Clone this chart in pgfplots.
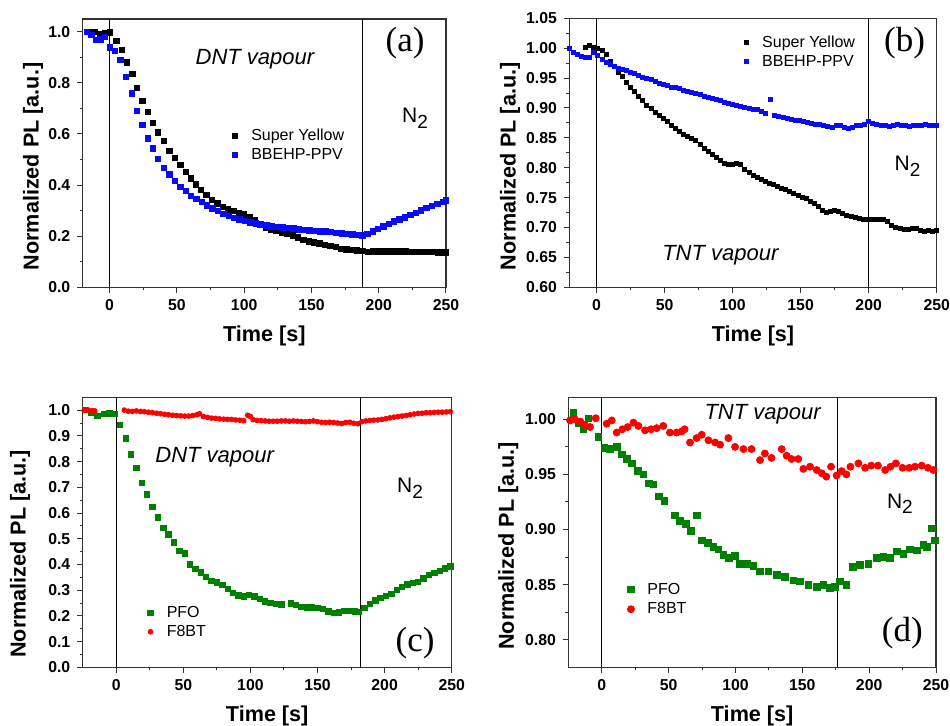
\documentclass[border=0pt]{standalone}
\usepackage{fontspec}
\setmainfont{Liberation Sans}
\newfontfamily\seriffont{Liberation Serif}
\usepackage{pgfplots}
\pgfplotsset{compat=1.18}

\definecolor{pblue}{RGB}{10,10,250}
\definecolor{pgreen}{RGB}{0,128,0}
\definecolor{pred}{RGB}{255,0,0}

\pgfplotsset{
  panel/.style={
    scale only axis,
    axis line style={line width=0.6pt, black!80},
    tick pos=left,
    tick align=outside,
    major tick length=2.7pt,
    minor tick length=1.5pt,
    every tick/.style={black!80, line width=0.5pt},
    ticklabel style={font=\bfseries\fontsize{7.9}{9}\selectfont},
    /pgf/number format/assume math mode=true,
    label style={font=\bfseries\fontsize{10.8}{12}\selectfont},
    xlabel={Time [s]},
    ylabel={Normalized PL [a.u.]},
    xlabel style={at={(axis description cs:0.5,-0.18)}, anchor=center},
    xtick={0,50,100,150,200,250},
    minor x tick num=1,
    minor y tick num=1,
    xmax=250,
    legend cell align=left,
    legend style={draw=none, fill=none, inner sep=0pt, outer sep=0pt,
      anchor=north west, row sep=0pt,
      font=\fontsize{8}{9}\selectfont,
      nodes={text height=6pt, text depth=1.5pt, inner sep=1pt}},
  },
  pts/.style={only marks,
    legend image code/.code={\path[draw=none, fill=none] (0cm,0cm) (0.45cm,0cm);
      \path[##1] plot coordinates {(0.2cm,0cm)};}},
  vline/.style={forget plot, black, line width=0.5pt},
}
\tikzset{
  ann/.style={font=\itshape\fontsize{11}{12}\selectfont},
  ntwo/.style={font=\fontsize{10.5}{12}\selectfont},
  plab/.style={font=\seriffont\fontsize{17.5}{20}\selectfont},
}

\begin{document}
\begin{tikzpicture}
\useasboundingbox (0,0) rectangle (475pt,363pt);

% (a)
\begin{axis}[panel, at={(41.35pt,219.35pt)}, anchor=south west,
  width=181.65pt, height=134.15pt,
  xmin=-20, ymin=0, ymax=1.05,
  ytick={0,0.2,0.4,0.6,0.8,1.0},
  yticklabel style={/pgf/number format/.cd, fixed, fixed zerofill, precision=1},
  ylabel style={at={(axis description cs:-0.137,0.45)}, anchor=center},
  legend style={at={(0.388,0.60)}}]
\addplot[pts, mark=square*, mark size=1.35pt, black] coordinates {
(-15,1.0) (-11,1.0) (-7,0.99) (-3,0.995) (0,0.997) (5,0.965) (9,0.928) (13,0.88)
(17,0.835) (20.5,0.78) (24.5,0.729) (28.5,0.687) (32,0.644) (36,0.606) (40.5,0.572)
(44.5,0.533) (48.5,0.507) (52.5,0.478) (56.5,0.452) (60.5,0.426) (64,0.403) (68,0.381)
(72,0.361) (76,0.342) (80,0.329) (84,0.315) (88,0.305) (92,0.298) (96,0.292) (100,0.285)
(104,0.275) (108,0.262) (112,0.245) (116,0.232) (120,0.226) (124,0.222) (128,0.214)
(132,0.208) (136,0.203) (140,0.195) (144,0.186) (148,0.180) (152,0.176) (156,0.171)
(160,0.165) (164,0.161) (168,0.157) (172,0.151) (176,0.148) (180,0.146) (184,0.145)
(188,0.143) (192,0.138) (196,0.141) (200,0.141) (204,0.140) (208,0.140) (212,0.140)
(216,0.140) (220,0.140) (224,0.139) (228,0.139) (232,0.138) (236,0.138) (240,0.138)
(244,0.137) (248,0.137) (250,0.137)
};
\addplot[pts, mark=square*, mark size=1.35pt, pblue] coordinates {
(-17,1.0) (-13.5,0.987) (-10,0.968) (-6.5,0.97) (-3.5,0.98) (0,0.939) (4,0.926)
(8,0.889) (12,0.824) (16.5,0.759) (20.5,0.691) (24.5,0.635) (28.5,0.583) (32,0.544)
(36,0.502) (40.5,0.468) (44.5,0.442) (48.5,0.417) (52.5,0.394) (56.5,0.377) (60.5,0.358)
(64.5,0.345) (68.5,0.333) (72.5,0.320) (76.5,0.308) (80.5,0.298) (84.5,0.288)
(88.5,0.280) (92.5,0.272) (96.5,0.265) (100.5,0.259) (104.5,0.254) (108.5,0.250)
(112.5,0.246) (116.5,0.242) (120.5,0.239) (124.5,0.236) (128.5,0.234) (132.5,0.232)
(136.5,0.230) (140.5,0.227) (144.5,0.224) (148.5,0.222) (152.5,0.220) (156.5,0.219)
(160.5,0.218) (164.5,0.216) (168.5,0.213) (172.5,0.211) (176.5,0.209) (180.5,0.207)
(184.5,0.205) (188,0.203) (191.5,0.210) (195.5,0.218) (199.5,0.228) (203.5,0.238)
(207.5,0.248) (211.5,0.258) (215.5,0.266) (219.5,0.274) (223.5,0.283) (227.5,0.292)
(231.5,0.301) (235.5,0.310) (239.5,0.318) (243.5,0.327) (247.5,0.335) (250,0.340)
};
\legend{Super Yellow, BBEHP-PPV}
\addplot[vline] coordinates {(0,0) (0,1.05)};
\addplot[vline] coordinates {(188,0) (188,1.05)};
\node[ann] at (axis cs:108,0.892) {DNT vapour};
\node[plab] at (axis cs:219.6,0.957) {(a)};
\node[ntwo] at (axis cs:227,0.661) {N\raisebox{-0.5ex}{\fontsize{9.5}{10}\selectfont 2}};
\end{axis}

% (b)
\begin{axis}[panel, at={(284.65pt,219.35pt)}, anchor=south west,
  width=183.7pt, height=134.5pt,
  xmin=-20, ymin=0.6, ymax=1.05,
  ytick={0.60,0.65,0.70,0.75,0.80,0.85,0.90,0.95,1.00,1.05},
  yticklabel style={/pgf/number format/.cd, fixed, fixed zerofill, precision=2},
  ylabel style={at={(axis description cs:-0.161,0.45)}, anchor=center},
  legend style={at={(0.45,0.945)}}]
\addplot[pts, mark=square*, mark size=1.0pt, black] coordinates {
(-8,1.001) (-5,1.004) (-2,1.002) (1,1.000) (4,0.997) (7,0.990) (10,0.978) (13,0.969)
(16,0.960) (19,0.952) (22,0.943) (25,0.935) (28,0.928) (31,0.920) (34,0.912) (37,0.905)
(40,0.899) (43,0.892) (46,0.887) (49,0.883) (52,0.877) (55,0.870) (58,0.865) (61,0.861)
(64,0.856) (67,0.852) (70,0.849) (73,0.846) (76,0.839) (79,0.833) (82,0.828) (85,0.822)
(88,0.817) (91,0.812) (94,0.808) (97,0.806) (100,0.805) (103,0.808) (106,0.806)
(109,0.797) (112,0.792) (115,0.787) (118,0.784) (121,0.780) (124,0.777) (127,0.774)
(130,0.772) (133,0.769) (136,0.766) (139,0.763) (142,0.760) (145,0.757) (148,0.754)
(151,0.751) (154,0.748) (157,0.744) (160,0.740) (163,0.735) (166,0.729) (169,0.726)
(172,0.727) (175,0.728) (178,0.727) (181,0.724) (184,0.721) (187,0.719) (190,0.717)
(193,0.716) (196,0.714) (199,0.713) (202,0.713) (205,0.713) (208,0.713) (211,0.713)
(214,0.710) (217,0.704) (220,0.700) (223,0.698) (226,0.697) (229,0.697) (232,0.699)
(235,0.698) (238,0.695) (241,0.694) (244,0.695) (247,0.694) (250,0.696)
};
\addplot[pts, mark=square*, mark size=1.0pt, pblue] coordinates {
(-20,1.000) (-17,0.993) (-14,0.989) (-11,0.987) (-8,0.984) (-5,0.985) (-2,0.993)
(1,0.988) (4,0.982) (7,0.977) (10,0.973) (13,0.970) (16,0.967) (19,0.964) (22,0.962)
(25,0.959) (28,0.957) (31,0.954) (34,0.951) (37,0.949) (40,0.947) (43,0.944) (46,0.941)
(49,0.939) (52,0.937) (55,0.935) (58,0.934) (61,0.932) (64,0.930) (67,0.927) (70,0.926)
(73,0.924) (76,0.922) (79,0.920) (82,0.918) (85,0.916) (88,0.914) (91,0.912) (94,0.910)
(97,0.908) (100,0.906) (103,0.904) (106,0.903) (109,0.901) (112,0.900) (115,0.898)
(118,0.897) (121,0.895) (124,0.891) (128,0.915) (131,0.888) (134,0.886) (137,0.885)
(140,0.883) (143,0.881) (146,0.880) (149,0.879) (152,0.877) (155,0.876) (158,0.875)
(161,0.873) (164,0.872) (167,0.871) (170,0.869) (173,0.868) (176,0.870) (179,0.870)
(182,0.867) (185,0.866) (188,0.868) (191,0.870) (194,0.871) (197,0.873) (200,0.877)
(203,0.874) (206,0.872) (209,0.871) (212,0.870) (215,0.869) (218,0.870) (221,0.872)
(224,0.870) (227,0.871) (230,0.869) (233,0.871) (236,0.870) (239,0.871) (242,0.872)
(245,0.870) (248,0.871) (250,0.870)
};
\legend{Super Yellow, BBEHP-PPV}
\addplot[vline] coordinates {(0,0.6) (0,1.05)};
\addplot[vline] coordinates {(200,0.6) (200,1.05)};
\node[ann] at (axis cs:91,0.654) {TNT vapour};
\node[plab] at (axis cs:226.4,1.008) {(b)};
\node[ntwo] at (axis cs:228.6,0.802) {N\raisebox{-0.5ex}{\fontsize{9.5}{10}\selectfont 2}};
\end{axis}

% (c)
\begin{axis}[panel, at={(41.35pt,29.35pt)}, anchor=south west,
  width=184.5pt, height=135pt,
  xmin=-25, ymin=0, ymax=1.05,
  ytick={0,0.1,0.2,0.3,0.4,0.5,0.6,0.7,0.8,0.9,1.0},
  yticklabel style={/pgf/number format/.cd, fixed, fixed zerofill, precision=1},
  ylabel style={at={(axis description cs:-0.17,0.42)}, anchor=center},
  legend style={at={(0.153,0.237)}}]
\addplot[pts, mark=square*, mark size=1.35pt, pgreen] coordinates {
(-23,1.0) (-19,0.99) (-14,0.977) (-9,0.985) (-5,0.987) (-1,0.985) (2.7,0.942) (7,0.890)
(10.7,0.828) (15,0.776) (19.3,0.718) (23,0.672) (27,0.624) (31,0.583) (35,0.543)
(39,0.517) (43,0.486) (47,0.452) (51,0.443) (55,0.400) (59,0.382) (63,0.369) (67,0.352)
(71,0.337) (75,0.330) (79,0.320) (83,0.305) (87,0.290) (91,0.279) (95,0.276) (99,0.282)
(103,0.276) (107,0.265) (111,0.257) (115,0.250) (119,0.246) (123,0.245) (130,0.249)
(134,0.243) (138,0.236) (142,0.233) (146,0.233) (150,0.232) (154,0.226) (158,0.218)
(162,0.212) (166,0.214) (170,0.219) (174,0.219) (178,0.218) (181,0.216) (185,0.230)
(189,0.247) (193,0.260) (197,0.271) (201,0.278) (205,0.285) (209,0.300) (213,0.313)
(217,0.322) (221,0.328) (225,0.331) (229,0.345) (233,0.360) (237,0.368) (241,0.376)
(245,0.385) (249,0.392)
};
\addplot[pts, mark=*, mark size=1.2pt, pred] coordinates {
(-24,0.999) (-21,1.0) (-18,0.998) (-16,0.997) (6,1.0) (9,0.996) (12,0.995) (15,0.997)
(18,0.995) (21,0.994) (24,0.992) (27,0.990) (30,0.988) (33,0.986) (36,0.984) (39,0.982)
(42,0.980) (45,0.979) (48,0.978) (51,0.977) (54,0.977) (57,0.979) (60,0.982) (62,0.986)
(65,0.975) (68,0.972) (71,0.969) (74,0.968) (77,0.966) (80,0.965) (83,0.964) (86,0.964)
(89,0.962) (92,0.961) (95,0.959) (98,0.980) (100,0.975) (102,0.963) (105,0.960)
(108,0.959) (111,0.958) (114,0.957) (117,0.957) (120,0.957) (123,0.958) (126,0.958)
(129,0.957) (132,0.958) (135,0.957) (138,0.956) (141,0.955) (144,0.956) (147,0.958)
(150,0.955) (153,0.953) (156,0.952) (159,0.953) (162,0.952) (165,0.950) (168,0.948)
(171,0.952) (174,0.953) (177,0.949) (180,0.947) (183,0.955) (186,0.958) (189,0.960)
(192,0.961) (195,0.962) (198,0.964) (201,0.967) (204,0.970) (207,0.973) (210,0.975)
(213,0.977) (216,0.979) (219,0.982) (222,0.985) (225,0.987) (228,0.988) (231,0.990)
(234,0.990) (237,0.991) (240,0.992) (243,0.992) (246,0.993) (249,0.994)
};
\legend{PFO, F8BT}
\addplot[vline] coordinates {(0,0) (0,1.05)};
\addplot[vline] coordinates {(182,0) (182,1.05)};
\node[ann] at (axis cs:73.4,0.818) {DNT vapour};
\node[plab] at (axis cs:222.7,0.093) {(c)};
\node[ntwo] at (axis cs:219,0.696) {N\raisebox{-0.5ex}{\fontsize{9.5}{10}\selectfont 2}};
\end{axis}

% (d)
\begin{axis}[panel, at={(284.15pt,29.35pt)}, anchor=south west,
  width=183.85pt, height=135pt,
  xmin=-25, ymin=0.775, ymax=1.02,
  ytick={0.80,0.85,0.90,0.95,1.00},
  yticklabel style={/pgf/number format/.cd, fixed, fixed zerofill, precision=2},
  ylabel style={at={(axis description cs:-0.163,0.45)}, anchor=center},
  legend style={at={(0.1395,0.325)}, nodes={text height=6.2pt, text depth=1.5pt, inner sep=1.1pt}}]
\addplot[pts, mark=square*, mark size=1.65pt, pgreen] coordinates {
(-21.2,1.0057) (-17.4,0.997) (-13.7,0.991) (-10,1.001) (-2.5,0.984) (2,0.974)
(6.2,0.973) (11.2,0.975) (15,0.968) (18.7,0.964) (22.4,0.960) (26.9,0.953) (31.2,0.950)
(35.4,0.942) (38.6,0.941) (42.9,0.930) (46.9,0.926) (54.8,0.913) (58.6,0.908)
(62.8,0.905) (66.8,0.899) (71,0.913) (74.8,0.890) (79.3,0.888) (83.5,0.884) (87.2,0.882)
(91,0.877) (95.2,0.874) (99.7,0.876) (103.4,0.869) (108.4,0.869) (113.4,0.867)
(118.4,0.862) (124.6,0.862) (130.9,0.859) (137,0.857) (143.3,0.854) (148.3,0.853)
(154.5,0.850) (160.8,0.848) (165.8,0.850) (170.7,0.847) (174.5,0.848) (178,0.853)
(183,0.850) (188,0.866) (193,0.868) (199.4,0.869) (205.6,0.874) (210.6,0.875)
(215.6,0.874) (220.6,0.880) (225.6,0.878) (230.6,0.882) (235.5,0.881) (240.5,0.886)
(243,0.884) (246.8,0.901) (249.3,0.890)
};
\addplot[pts, mark=*, mark size=1.75pt, pred] coordinates {
(-23.7,0.999) (-20,1.0) (-16,0.998) (-12.5,0.995) (-8.7,0.993) (-4.5,1.001) (3.7,0.996)
(7.5,0.999) (11.2,0.988) (15.5,0.991) (19.4,0.993) (23.7,0.997) (27.4,0.994)
(32.4,0.990) (36.9,0.991) (41.1,0.992) (46,0.994) (51,0.988) (56,0.988) (59.8,0.989)
(62,0.991) (66,0.979) (71,0.983) (74.8,0.986) (79.8,0.981) (84.8,0.979) (88.5,0.977)
(94.7,0.983) (99.7,0.975) (106,0.973) (112,0.973) (118.4,0.963) (122,0.969)
(127,0.965) (134.6,0.973) (138.3,0.967) (142,0.964) (147,0.964) (150.8,0.955)
(155.8,0.957) (160.8,0.954) (164.6,0.951) (168,0.948) (171.5,0.957) (175.7,0.949)
(179.5,0.953) (183,0.950) (186,0.957) (192,0.960) (197,0.956) (201.6,0.958)
(206.6,0.958) (212,0.954) (216,0.957) (220,0.960) (225,0.956) (230,0.956) (234.3,0.957)
(239.3,0.958) (244,0.956) (248,0.954)
};
\legend{PFO, F8BT}
\addplot[vline] coordinates {(0,0.775) (0,1.02)};
\addplot[vline] coordinates {(176,0.775) (176,1.02)};
\node[ann] at (axis cs:120.3,1.005) {TNT vapour};
\node[plab] at (axis cs:224.8,0.806) {(d)};
\node[ntwo] at (axis cs:223,0.9235) {N\raisebox{-0.5ex}{\fontsize{9.5}{10}\selectfont 2}};
\end{axis}
\end{tikzpicture}
\end{document}
